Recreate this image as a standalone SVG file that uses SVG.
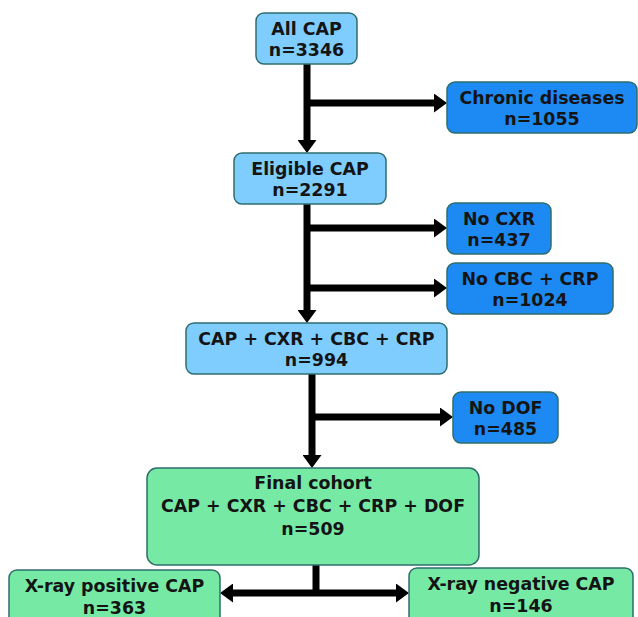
<svg xmlns="http://www.w3.org/2000/svg" width="638" height="617" viewBox="0 0 638 617">
<style>
.b{stroke:#2F6D6D;stroke-width:1.5}
.lb{fill:#7FCDFE}
.db{fill:#1C8AF2}
.gr{fill:#76EAA4}
text{font-family:"DejaVu Sans","Liberation Sans",sans-serif;font-weight:bold;font-size:17.4px;fill:#141414;text-anchor:middle}
.c{fill:none;stroke:#000;stroke-width:7}
</style>
<defs>
<marker id="ah" markerUnits="userSpaceOnUse" markerWidth="14" markerHeight="19" refX="0" refY="9.5" orient="auto" viewBox="0 0 14 19">
<path d="M0,0 L13,9.5 L0,19 Z" fill="#000"/>
</marker>
</defs>
<rect width="638" height="617" fill="#fff"/>
<g id="connectors">
<path class="c" d="M307,64 V140" marker-end="url(#ah)"/>
<path class="c" d="M307,103 H434" marker-end="url(#ah)"/>
<path class="c" d="M307,204 V310" marker-end="url(#ah)"/>
<path class="c" d="M307,228 H434" marker-end="url(#ah)"/>
<path class="c" d="M307,288 H434" marker-end="url(#ah)"/>
<path class="c" d="M312,374 V455" marker-end="url(#ah)"/>
<path class="c" d="M312,417 H440" marker-end="url(#ah)"/>
<path class="c" d="M316,565 V593"/>
<path class="c" d="M316,593 H233" marker-end="url(#ah)"/>
<path class="c" d="M316,593 H396" marker-end="url(#ah)"/>
</g>
<g id="all-cap">
<rect class="b lb" x="256" y="13" width="101" height="51" rx="8"/>
<text x="306.5" y="35">All CAP</text>
<text x="306.5" y="56">n=3346</text>
</g>
<g id="chronic">
<rect class="b db" x="447" y="82" width="190" height="51" rx="8"/>
<text x="542" y="104">Chronic diseases</text>
<text x="542" y="125">n=1055</text>
</g>
<g id="eligible">
<rect class="b lb" x="234" y="153" width="152" height="51" rx="8"/>
<text x="310" y="175">Eligible CAP</text>
<text x="310" y="196">n=2291</text>
</g>
<g id="no-cxr">
<rect class="b db" x="447" y="203" width="104" height="51" rx="8"/>
<text x="499" y="225">No CXR</text>
<text x="499" y="246">n=437</text>
</g>
<g id="no-cbc">
<rect class="b db" x="447" y="263" width="166" height="51" rx="8"/>
<text x="530" y="285">No CBC + CRP</text>
<text x="530" y="306">n=1024</text>
</g>
<g id="cap-cxr">
<rect class="b lb" x="186" y="323" width="261" height="51" rx="8"/>
<text x="316.5" y="345">CAP + CXR + CBC + CRP</text>
<text x="316.5" y="366">n=994</text>
</g>
<g id="no-dof">
<rect class="b db" x="453" y="392" width="105" height="51" rx="8"/>
<text x="505.5" y="414">No DOF</text>
<text x="505.5" y="435">n=485</text>
</g>
<g id="final">
<rect class="b gr" x="147" y="468" width="332" height="97" rx="10"/>
<text x="313" y="489">Final cohort</text>
<text x="313" y="512">CAP + CXR + CBC + CRP + DOF</text>
<text x="313" y="535">n=509</text>
</g>
<g id="xpos">
<rect class="b gr" x="9" y="570" width="211" height="60" rx="8"/>
<text x="114.5" y="592">X-ray positive CAP</text>
<text x="114.5" y="614">n=363</text>
</g>
<g id="xneg">
<rect class="b gr" x="409" y="568" width="224" height="62" rx="8"/>
<text x="521" y="590">X-ray negative CAP</text>
<text x="521" y="612">n=146</text>
</g>
</svg>
